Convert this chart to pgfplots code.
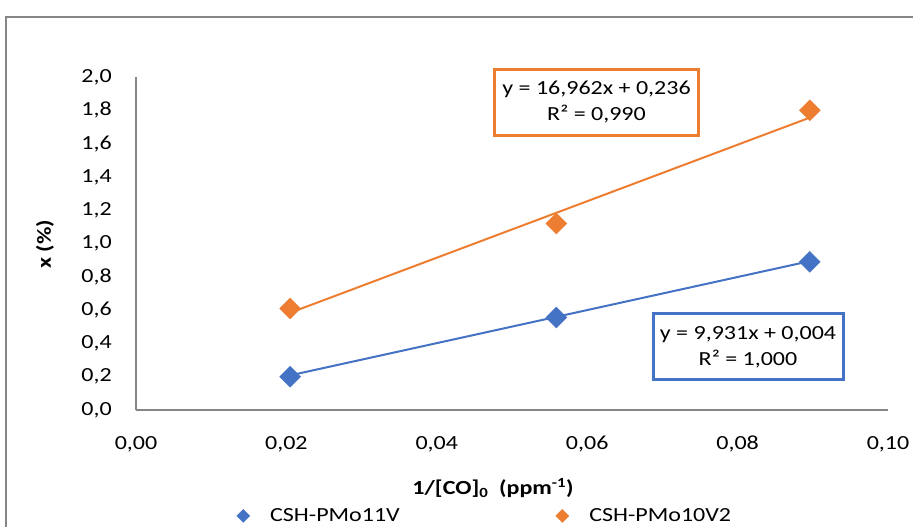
\documentclass[border=0pt]{standalone}
\usepackage{fontspec}
\setmainfont{Carlito}[FakeStretch=1.2]
\usepackage{pgfplots}
\pgfplotsset{compat=1.18}
\definecolor{xlblue}{RGB}{68,114,196}
\definecolor{xlorange}{RGB}{237,125,49}
\definecolor{xlgray}{RGB}{134,134,134}
\begin{document}
\begin{tikzpicture}[x=1pt,y=1pt,font=\fontsize{20}{24}\selectfont]
\path[use as bounding box] (0,0) rectangle (913,527);
\draw[xlgray, line width=2pt] (6,-20) -- (6,510) -- (940,510);
\begin{axis}[
  at={(136pt,117pt)}, anchor=south west,
  scale only axis, width=752pt, height=333pt,
  xmin=0, xmax=0.1, ymin=0, ymax=2,
  axis x line*=bottom, axis y line*=left,
  axis line style={xlgray, line width=1.5pt, -},
  xtick={0,0.02,0.04,0.06,0.08,0.1},
  ytick={0,0.2,0.4,0.6,0.8,1,1.2,1.4,1.6,1.8,2},
  major tick length=0pt,
  scaled x ticks=false, scaled y ticks=false,
  xticklabel style={/pgf/number format/fixed, /pgf/number format/fixed zerofill, /pgf/number format/precision=2, /pgf/number format/use comma, /pgf/number format/assume math mode=true, anchor=base, yshift=-40pt, inner sep=0pt},
  yticklabel style={/pgf/number format/fixed, /pgf/number format/fixed zerofill, /pgf/number format/precision=1, /pgf/number format/use comma, /pgf/number format/assume math mode=true, anchor=east, xshift=-24pt, inner sep=0pt},
  clip=false,
  legend columns=2,
  legend cell align=left,
  legend image code/.code={\draw[#1, mark size=4.6pt] plot coordinates {(0pt,0pt)};},
  legend style={at={(0.1336,-0.318)}, anchor=west, draw=none, fill=none, inner sep=0pt,
    nodes={inner sep=0pt},
    /tikz/every odd column/.append style={column sep=20.5pt},
    /tikz/every even column/.append style={column sep=156pt}},
]
\addplot[xlorange, line width=2pt, forget plot] coordinates {(0.0205,0.584) (0.0896,1.756)};
\addplot[xlblue, line width=2pt, forget plot] coordinates {(0.0205,0.208) (0.0896,0.894)};
\addplot[only marks, mark=square*, mark size=7.4pt, mark options={rotate=45, fill=xlblue, draw=xlblue}] coordinates {(0.0205,0.20) (0.0559,0.555) (0.0896,0.89)};
\addlegendentry{CSH-PMo11V}
\addplot[only marks, mark=square*, mark size=7.4pt, mark options={rotate=45, fill=xlorange, draw=xlorange}] coordinates {(0.0205,0.61) (0.0559,1.12) (0.0896,1.80)};
\addlegendentry{CSH-PMo10V2}
\end{axis}
\node[font=\bfseries\fontsize{20}{24}\selectfont, rotate=90] at (45,283) {x (\%)};
\node[font=\bfseries\fontsize{20}{24}\selectfont] at (493,39) {1/[CO]\textsubscript{0}\ \ (ppm\textsuperscript{-1})};
\node[draw=xlorange, line width=3pt, fill=white, align=center, minimum width=204pt, minimum height=66pt, inner sep=0pt, font=\fontsize{20}{26}\selectfont] at (596.5,424.5) {y = 16,962x + 0,236\\R² = 0,990};
\node[draw=xlblue, line width=3pt, fill=white, align=center, minimum width=190pt, minimum height=66pt, inner sep=0pt, font=\fontsize{20}{26}\selectfont] at (748,180) {y = 9,931x + 0,004\\R² = 1,000};
\end{tikzpicture}
\end{document}
